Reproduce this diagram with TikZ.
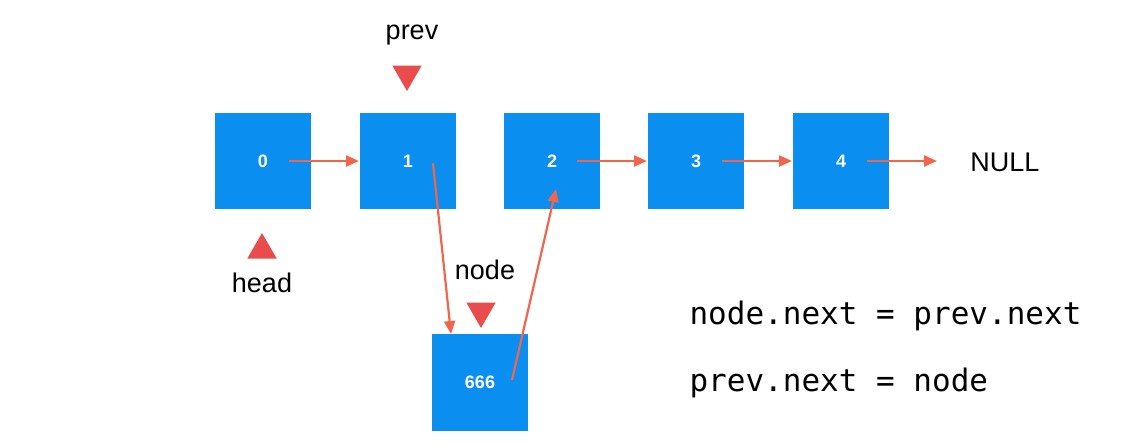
\documentclass[tikz,border=0pt]{standalone}
\usepackage{fontspec}
\setmainfont{Liberation Sans}
\newfontfamily\codefont{DejaVu Sans Mono}
\usetikzlibrary{arrows.meta,shapes.geometric}
\definecolor{boxblue}{RGB}{10,143,240}
\definecolor{arr}{RGB}{240,101,75}
\definecolor{tri}{RGB}{232,76,76}
\begin{document}
\begin{tikzpicture}[x=1pt,y=-1pt,
  box/.style={fill=boxblue,minimum width=96pt,minimum height=96pt,inner sep=0,text=white,font=\bfseries\fontsize{18}{20}\selectfont},
  link/.style={draw=arr,line width=2.2pt,-{Triangle[length=13pt,width=11pt]}},
  lab/.style={font=\fontsize{27}{30}\selectfont},
  tridown/.style={fill=tri,regular polygon,regular polygon sides=3,shape border rotate=180,minimum size=34pt,inner sep=0},
  triup/.style={fill=tri,regular polygon,regular polygon sides=3,minimum size=34pt,inner sep=0},
  code/.style={font=\codefont\fontsize{31}{34}\selectfont,anchor=west}]
\useasboundingbox (0,0) rectangle (1125,447);
\node[box] (b0) at (263,161) {0};
\node[box] (b1) at (408,161) {1};
\node[box] (b2) at (552,161) {2};
\node[box] (b3) at (696,161) {3};
\node[box] (b4) at (841,161) {4};
\node[box,minimum height=97pt] (b6) at (480,382) {666};
\node[lab] (null) at (1005,162) {NULL};
\node[lab] (prev) at (412,35) {prev};
\node[tridown] (tp) at (407,74) {};
\node[triup] (th) at (262,250) {};
\node[lab] (head) at (262,283) {head};
\node[lab] (nodel) at (485,270) {node};
\node[tridown] (tn) at (481,311) {};
\node[code] (c1) at (686,316) {node.next = prev.next};
\node[code] (c2) at (686,383) {prev.next = node};
\coordinate (s0) at (289,161); \coordinate (e0) at (359,161);
\draw[link] (s0) -- (e0);
\coordinate (s1) at (433,163); \coordinate (e1) at (451,334);
\draw[link] (s1) -- (e1);
\coordinate (s6) at (512,380); \coordinate (e6) at (556,189);
\draw[link] (s6) -- (e6);
\coordinate (s2) at (577,161); \coordinate (e2) at (647,161);
\draw[link] (s2) -- (e2);
\coordinate (s3) at (722,161); \coordinate (e3) at (792,161);
\draw[link] (s3) -- (e3);
\coordinate (s4) at (867,161); \coordinate (e4) at (937,161);
\draw[link] (s4) -- (e4);
\end{tikzpicture}
\end{document}
